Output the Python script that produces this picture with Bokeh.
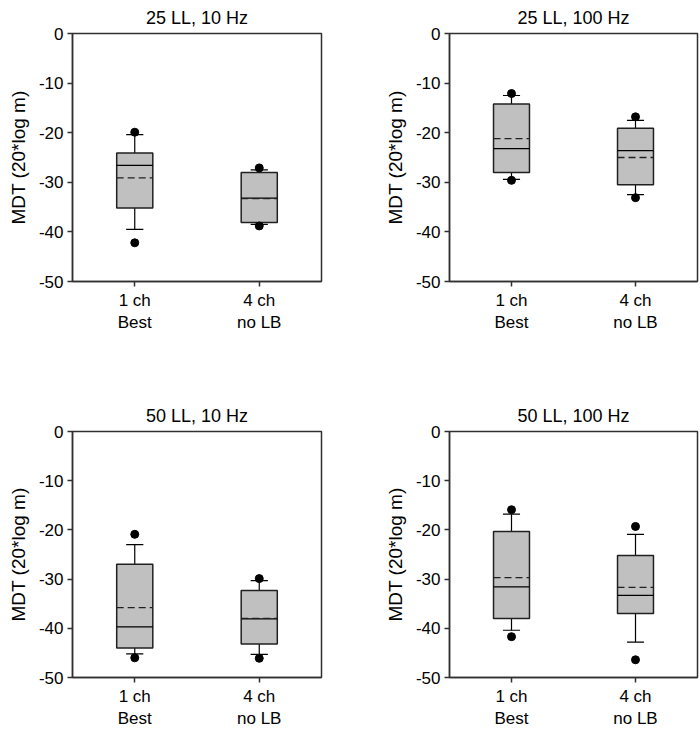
import numpy as np
from bokeh.plotting import figure
from bokeh.models import Range1d, FixedTicker
from bokeh.layouts import row, column
from bokeh.embed import file_html
from bokeh.resources import INLINE

# ---------------- data ----------------
titles = ["25 LL, 10 Hz", "25 LL, 100 Hz", "50 LL, 10 Hz", "50 LL, 100 Hz"]
group_pos = [1, 2]
group_labels = ["1 ch\nBest", "4 ch\nno LB"]
y_ticks = [0, -10, -20, -30, -40, -50]
y_tick_labels = ["0", "-10", "-20", "-30", "-40", "-50"]
y_label = "MDT (20*log m)"

# each row = one panel, columns = [1 ch Best, 4 ch no LB]
whisker_low = [[-39.5, -38.5], [-29.4, -32.5], [-45.2, -45.3], [-40.4, -42.8]]
q1 = [[-35.2, -38.1], [-28.0, -30.5], [-44.0, -43.2], [-38.0, -37.0]]
median = [[-26.6, -33.2], [-23.2, -23.6], [-39.7, -38.1], [-31.6, -33.3]]
mean = [[-29.1, -33.3], [-21.2, -25.0], [-35.8, -38.0], [-29.7, -31.7]]
q3 = [[-24.1, -28.0], [-14.2, -19.1], [-27.0, -32.3], [-20.3, -25.2]]
whisker_high = [[-20.4, -27.5], [-12.5, -17.5], [-23.0, -30.3], [-16.8, -20.9]]
outlier_high = [[-19.9, -27.1], [-12.1, -16.8], [-20.9, -29.9], [-15.9, -19.3]]
outlier_low = [[-42.2, -38.8], [-29.6, -33.1], [-46.0, -46.1], [-41.7, -46.4]]

# ---------------- style ----------------
FONT = "Liberation Sans"
BOX_HW = 0.145
CAP_HW = 0.069
AX = "#303030"
TICK_FS = 17
TITLE_FS = 18
YLAB_FS = 19


def make_panel(i, width, height, mbl, mbr, mbt, mbb, standoff):
    p = figure(width=width, height=height,
               x_range=Range1d(0.5, 2.5), y_range=Range1d(-50, 0),
               output_backend="svg", toolbar_location=None,
               min_border_left=mbl, min_border_right=mbr,
               min_border_top=mbt, min_border_bottom=mbb,
               background_fill_color="white", border_fill_color="white")
    p.title.text = titles[i]
    p.title.align = "center"
    p.title.text_font = FONT
    p.title.text_font_size = f"{TITLE_FS}px"
    p.title.text_font_style = "normal"
    p.title.text_color = "black"
    p.title.standoff = standoff

    p.xgrid.visible = False
    p.ygrid.visible = False
    p.outline_line_color = AX
    p.outline_line_width = 1.5
    p.outline_line_alpha = 1.0

    p.xaxis.ticker = FixedTicker(ticks=group_pos)
    p.xaxis.major_label_overrides = {pos: lab for pos, lab in zip(group_pos, group_labels)}
    p.yaxis.ticker = FixedTicker(ticks=y_ticks)
    p.yaxis.major_label_overrides = {v: lab for v, lab in zip(y_ticks, y_tick_labels)}
    for ax in (p.xaxis[0], p.yaxis[0]):
        ax.axis_line_color = AX
        ax.axis_line_width = 1.5
        ax.major_tick_line_color = AX
        ax.major_tick_line_width = 1.5
        ax.major_tick_in = 0
        ax.major_tick_out = 5
        ax.minor_tick_line_color = None
        ax.major_label_text_font = FONT
        ax.major_label_text_font_size = f"{TICK_FS}px"
        ax.major_label_text_color = "black"
    p.xaxis.major_label_standoff = 4
    p.yaxis.major_label_standoff = 4
    p.yaxis.axis_label = y_label
    p.yaxis.axis_label_text_font = FONT
    p.yaxis.axis_label_text_font_size = f"{YLAB_FS}px"
    p.yaxis.axis_label_text_font_style = "normal"
    p.yaxis.axis_label_text_color = "black"
    p.yaxis.axis_label_standoff = 7

    lo = whisker_low[i]
    b1 = q1[i]
    md = median[i]
    mn = mean[i]
    b3 = q3[i]
    hi = whisker_high[i]
    x = np.array(group_pos, dtype=float)

    # whiskers and caps
    p.segment(x0=x, x1=x, y0=b3, y1=hi, line_color="black", line_width=1.2)
    p.segment(x0=x, x1=x, y0=b1, y1=lo, line_color="black", line_width=1.2)
    p.segment(x0=x - CAP_HW, x1=x + CAP_HW, y0=hi, y1=hi, line_color="black", line_width=1.2)
    p.segment(x0=x - CAP_HW, x1=x + CAP_HW, y0=lo, y1=lo, line_color="black", line_width=1.2)
    # boxes, median (solid), mean (dashed)
    p.quad(left=x - BOX_HW, right=x + BOX_HW, bottom=b1, top=b3,
           fill_color="#c0c0c0", line_color="#202020", line_width=1.5)
    p.segment(x0=x - BOX_HW, x1=x + BOX_HW, y0=md, y1=md, line_color="black", line_width=1.3)
    p.segment(x0=x - BOX_HW, x1=x + BOX_HW, y0=mn, y1=mn, line_color="#202020",
              line_width=1.3, line_dash="7 4")
    # outliers
    p.scatter(x=np.concatenate([x, x]), y=outlier_high[i] + outlier_low[i],
              size=8, marker="circle", fill_color="black", line_color="black")
    return p


TOP_H, BOT_H = 370, 361
p1 = make_panel(0, 381, TOP_H, 72, 60, 32, 89, 11)
p2 = make_panel(1, 319, TOP_H, 67, 3, 32, 89, 11)
p3 = make_panel(2, 381, BOT_H, 72, 60, 61, 51, 11)
p4 = make_panel(3, 319, BOT_H, 67, 3, 61, 51, 11)

layout = column(row(p1, p2), row(p3, p4))
open("out.html", "w").write(file_html(layout, INLINE))
